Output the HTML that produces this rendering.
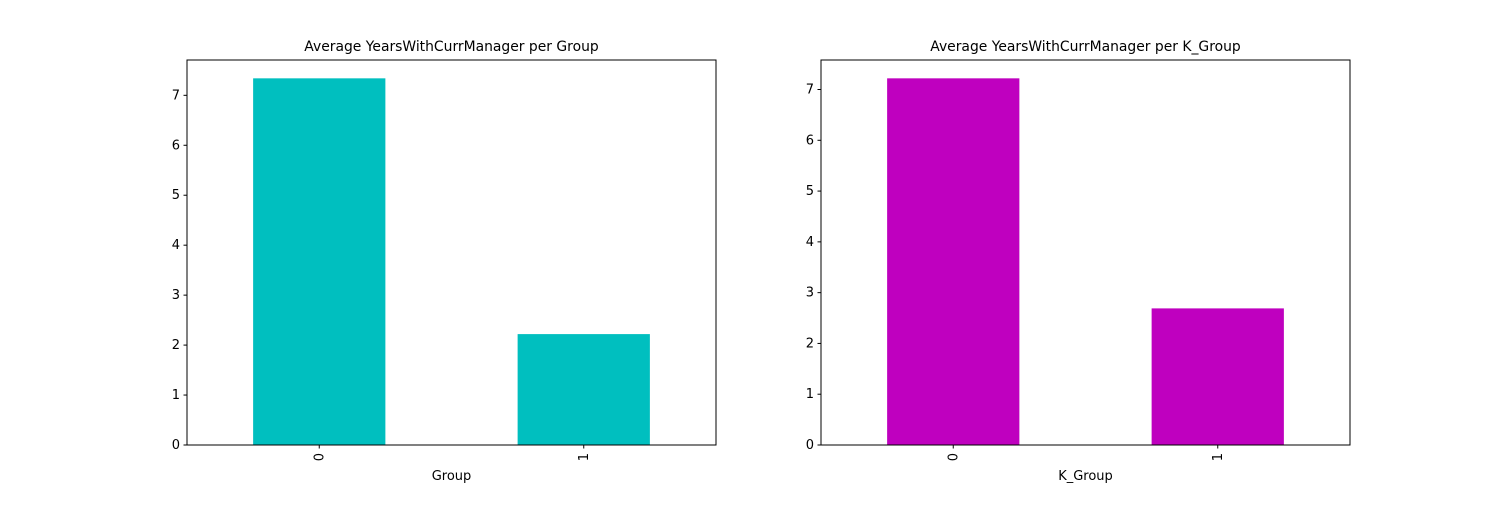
<!DOCTYPE html>
<html><head><meta charset="utf-8"><style>
body{margin:0;background:#fff;}
svg text{font-family:"DejaVu Sans","Liberation Sans",sans-serif;}
</style></head><body>
<svg id="chart" width="1500" height="500" xmlns="http://www.w3.org/2000/svg"></svg>
<script>
const categories = ["0", "1"];
const groupValues = [7.34, 2.22];
const kGroupValues = [7.22, 2.69];
const yTicks = [0, 1, 2, 3, 4, 5, 6, 7];

const svg = document.getElementById('chart');
const NS = 'http://www.w3.org/2000/svg';
function mk(tag, attrs, parent) {
  const e = document.createElementNS(NS, tag);
  for (const k in attrs) e.setAttribute(k, attrs[k]);
  (parent || svg).appendChild(e);
  return e;
}

function panel(x0, values, color, title, xlabel, prefix) {
  const x1 = x0 + 529, yTop = 60, yBot = 445;
  const g = mk('g', {});
  
  
  const ymax = Math.max(...values) * 1.05;
  const ys = v => yBot - v / ymax * (yBot - yTop);
  const n = categories.length;
  const xs = i => x0 + (i + 0.5) / n * (x1 - x0);
  const bw = 0.5 / n * (x1 - x0);
  values.forEach((v, i) => {
    const r = mk('rect', {x: xs(i) - bw / 2, y: ys(v), width: bw, height: yBot - ys(v), fill: color}, g);
    
    
  });
  const frame = mk('rect', {x: x0, y: yTop, width: x1 - x0, height: yBot - yTop, fill: 'none', stroke: '#000', 'stroke-width': 1}, g);
  
  
  yTicks.forEach(t => {
    if (t > ymax) return;
    const y = ys(t);
    mk('line', {x1: x0 - 3.5, x2: x0, y1: y, y2: y, stroke: '#000'}, g);
    const tx = mk('text', {x: x0 - 7, y: y + 4, 'font-size': 13, 'text-anchor': 'end'}, g);
    tx.textContent = t;
    
    
  });
  categories.forEach((c, i) => {
    const x = xs(i);
    mk('line', {x1: x, x2: x, y1: yBot, y2: yBot + 3.5, stroke: '#000'}, g);
    const tx = mk('text', {x: x + 4, y: yBot + 8, 'font-size': 13, 'text-anchor': 'end', transform: `rotate(-90 ${x + 4} ${yBot + 8})`}, g);
    tx.textContent = c;
    
    
  });
  const tt = mk('text', {x: (x0 + x1) / 2, y: 51, 'font-size': 13.9, 'text-anchor': 'middle'}, g);
  tt.textContent = title;
  
  
  const xl = mk('text', {x: (x0 + x1) / 2, y: 480, 'font-size': 13, 'text-anchor': 'middle'}, g);
  xl.textContent = xlabel;
  
  
}
panel(187, groupValues, '#00bfbf', 'Average YearsWithCurrManager per Group', 'Group', 'group');
panel(821, kGroupValues, '#bf00bf', 'Average YearsWithCurrManager per K_Group', 'K_Group', 'k-group');
</script>
</body></html>
